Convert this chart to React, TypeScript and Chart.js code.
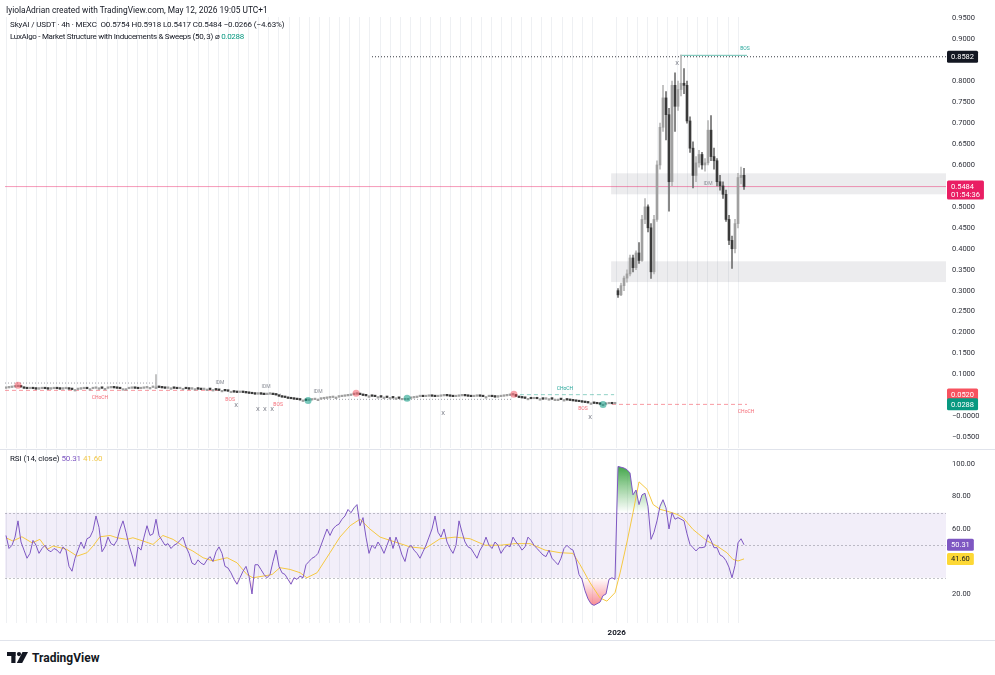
import React, { useEffect, useRef } from 'react';
import { Chart, registerables } from 'chart.js';

Chart.register(...registerables);

// ================= DATA =================
// 4h candles, pre-listing flat part (closes; opens = previous close)
const flatFirstOpen = 0.067;
const flatCloses = [
  0.068, 0.069, 0.070, 0.071, 0.073, 0.070, 0.067, 0.066, 0.067, 0.066,
  0.065, 0.066, 0.067, 0.066, 0.065, 0.066, 0.067, 0.066, 0.065, 0.066,
  0.067, 0.065, 0.064, 0.064, 0.065, 0.066, 0.067, 0.066, 0.066, 0.067,
  0.068, 0.068, 0.067, 0.067, 0.068, 0.069, 0.068, 0.067, 0.066, 0.066,
  0.066, 0.067, 0.068, 0.067, 0.066, 0.067, 0.068, 0.069, 0.069, 0.070,
  0.070, 0.069, 0.068, 0.067, 0.068, 0.068, 0.067, 0.066, 0.067, 0.067,
  0.066, 0.065, 0.066, 0.066, 0.065, 0.064, 0.065, 0.065, 0.064, 0.064,
  0.063, 0.062, 0.062, 0.061, 0.060, 0.060, 0.058, 0.057, 0.058, 0.057,
  0.056, 0.055, 0.054, 0.053, 0.054, 0.053, 0.052, 0.053, 0.054, 0.052,
  0.051, 0.048, 0.046, 0.045, 0.043, 0.042, 0.041, 0.040, 0.039, 0.039,
  0.038, 0.039, 0.040, 0.041, 0.041, 0.042, 0.043, 0.044, 0.045, 0.046,
  0.046, 0.047, 0.048, 0.049, 0.050, 0.052, 0.053, 0.054, 0.052, 0.050,
  0.049, 0.049, 0.048, 0.047, 0.047, 0.046, 0.046, 0.045, 0.045, 0.044,
  0.044, 0.043, 0.043, 0.043, 0.043, 0.044, 0.045, 0.047, 0.048, 0.047,
  0.048, 0.049, 0.048, 0.047, 0.048, 0.049, 0.050, 0.049, 0.048, 0.047,
  0.048, 0.049, 0.050, 0.049, 0.048, 0.047, 0.048, 0.049, 0.048, 0.047,
  0.047, 0.048, 0.047, 0.046, 0.047, 0.048, 0.049, 0.050, 0.051, 0.052,
  0.048, 0.045, 0.044, 0.043, 0.043, 0.042, 0.043, 0.042, 0.042, 0.041,
  0.042, 0.042, 0.041, 0.041, 0.041, 0.040, 0.040, 0.039, 0.038, 0.037,
  0.036, 0.035, 0.034, 0.033, 0.032, 0.032, 0.031, 0.030, 0.029, 0.029,
  0.030, 0.031, 0.030, 0.031,
];
// [bar, low, high] wick spikes in the flat part
const flatWicks = [[50, 0.066, 0.1]];

// pump part (full OHLC)
const pumpOpen = [0.300, 0.290, 0.312, 0.330, 0.340, 0.378, 0.355, 0.390, 0.372, 0.470, 0.500, 0.450, 0.345, 0.470, 0.600, 0.690, 0.760, 0.720, 0.560, 0.790, 0.740, 0.780, 0.795, 0.790, 0.705, 0.640, 0.575, 0.605, 0.625, 0.600, 0.605, 0.683, 0.620, 0.610, 0.560, 0.550, 0.530, 0.470, 0.420, 0.400, 0.460, 0.570, 0.5754];
const pumpHigh = [0.305, 0.318, 0.335, 0.350, 0.385, 0.385, 0.395, 0.415, 0.480, 0.520, 0.505, 0.460, 0.480, 0.610, 0.700, 0.790, 0.775, 0.735, 0.800, 0.820, 0.800, 0.862, 0.830, 0.800, 0.715, 0.655, 0.620, 0.635, 0.630, 0.615, 0.706, 0.718, 0.640, 0.615, 0.575, 0.560, 0.540, 0.480, 0.430, 0.470, 0.580, 0.595, 0.5918];
const pumpLow = [0.284, 0.288, 0.300, 0.320, 0.335, 0.345, 0.350, 0.365, 0.370, 0.460, 0.440, 0.329, 0.340, 0.465, 0.590, 0.680, 0.660, 0.490, 0.550, 0.680, 0.730, 0.765, 0.770, 0.700, 0.630, 0.545, 0.560, 0.595, 0.590, 0.585, 0.600, 0.610, 0.590, 0.550, 0.540, 0.520, 0.465, 0.410, 0.353, 0.390, 0.450, 0.555, 0.5417];
const pumpClose = [0.290, 0.312, 0.330, 0.340, 0.378, 0.355, 0.390, 0.372, 0.470, 0.500, 0.450, 0.345, 0.470, 0.600, 0.690, 0.760, 0.720, 0.560, 0.790, 0.740, 0.780, 0.795, 0.790, 0.705, 0.640, 0.575, 0.605, 0.625, 0.600, 0.605, 0.683, 0.620, 0.610, 0.560, 0.550, 0.530, 0.470, 0.420, 0.400, 0.460, 0.570, 0.5754, 0.5484];

// RSI (14, close), one per bar
const rsiValues = [
  56, 48, 50, 55, 65, 52, 47, 42, 45, 53,
  50, 45, 48, 50, 47, 46, 48, 47, 45, 49,
  47, 37, 34, 42, 47, 52, 48, 54, 55, 59,
  68, 61, 46, 49, 55, 51, 50, 53, 60, 65,
  58, 50, 44, 37, 49, 47, 55, 62, 56, 57,
  66, 56, 53, 50, 51, 48, 50, 51, 53, 55,
  49, 45, 39, 38, 41, 39, 38, 41, 43, 40,
  46, 49, 45, 37, 36, 33, 29, 26, 30, 34,
  37, 31, 20, 38, 38, 35, 32, 30, 32, 40,
  47, 37, 33, 32, 29, 26, 30, 29, 31, 30,
  38, 40, 42, 43, 45, 50, 55, 60, 56, 60,
  62, 63, 66, 68, 72, 70, 73, 75, 62, 67,
  55, 45, 50, 48, 52, 49, 45, 50, 55, 48,
  55, 50, 44, 40, 48, 50, 47, 45, 42, 46,
  50, 55, 60, 68, 58, 55, 60, 52, 48, 45,
  50, 65, 58, 52, 49, 48, 45, 42, 47, 50,
  55, 50, 48, 52, 50, 45, 48, 50, 49, 55,
  52, 50, 47, 49, 55, 53, 50, 48, 46, 44,
  43, 47, 42, 40, 38, 42, 48, 50, 48, 47,
  41, 32, 29, 22, 17, 14, 13, 14, 15, 19,
  20, 29, 30, 29, 98.5, 98, 97.5, 96.5, 94.5, 81,
  84, 75, 81, 82, 74, 53.6, 58, 65, 74, 78,
  73, 60, 70, 66, 67, 66, 65, 57, 50.5, 48.5,
  46.5, 48.5, 48.5, 49, 56.5, 53, 48.5, 48.5, 44, 43,
  40.5, 36.5, 30, 37.5, 51.5, 54, 50.31,
];
// RSI-based MA (read at these bar positions)
const rsiMaBars = [0, 2.3, 5.3, 8.7, 11.3, 13.7, 15.7, 18, 20.3, 23.7, 27, 29, 31.3, 34.7, 37, 40.3, 42.3, 45.7, 49, 52.3, 55.7, 59, 62.3, 65.7, 69, 73.7, 77, 80.3, 82.3, 85.7, 88.7, 91.3, 94.7, 98, 100.3, 103.7, 108, 111.3, 114.7, 118, 121.3, 124.7, 129.7, 134.7, 139.7, 144.7, 149.7, 154.7, 159.7, 164.7, 169.7, 174.7, 179.7, 184.7, 189, 191.3, 194.7, 198, 200.3, 203, 204.7, 207, 209, 211, 213.7, 215.7, 218, 220.3, 223.7, 225.7, 229, 233.7, 237, 240.3, 242.3, 244, 246];
const rsiMaValues = [54.6, 52.6, 55.2, 51.5, 53.6, 47.4, 49.5, 48.5, 47.4, 43.3, 45.4, 49.5, 55.2, 56, 54.6, 53.6, 54.6, 52.6, 50.5, 56, 53.6, 49.5, 46.4, 42.3, 40.3, 42.3, 39.2, 32, 30, 31, 32, 36.2, 35.1, 33.1, 30, 33.1, 45.4, 55, 62, 66, 60, 55, 52, 49, 48, 54, 55, 54, 50, 50, 51, 51, 47, 45.4, 45, 38.2, 26.9, 17.6, 15.6, 20.8, 33, 52, 70, 89, 84.4, 75.1, 72.1, 71, 69, 66.9, 59.7, 52.6, 49.5, 45.4, 41.3, 40.3, 41.6];
const rsiLast = 50.31;
const rsiMaLast = 41.6;

// tick labels
const priceTicks = [-0.05, 0, 0.05, 0.1, 0.15, 0.2, 0.25, 0.3, 0.35, 0.4, 0.45, 0.5, 0.55, 0.6, 0.65, 0.7, 0.75, 0.8, 0.85, 0.9, 0.95];
const rsiTicks = [20, 40, 60, 80, 100];
const rsiLevels = [70, 50, 30];
const yearLabel = '2026';
const yearBar = 203.57;

// market-structure annotations: [fromBar, toBar, price] / [bar, price]
const lastPrice = 0.5484;
const countdown = '01:54:36';
const swingHighLevel = [122, 0.8582];
const indicatorUpper = 0.052;
const indicatorValue = 0.0288;
const dottedLevels = [[-0.33, 50.3, 0.0795], [85.3, 92.3, 0.053], [101, 169, 0.0406]];
const chochBearLevels = [[-0.33, 72, 0.062], [202, 247, 0.0286]];
const chochBullLevels = [[171.3, 202.7, 0.0518]];
const bosBullLevels = [[224.7, 247, 0.8616]];
const zones = [[201.7, 0.58, 0.53], [201.7, 0.37, 0.3205]];
const swingHighMarks = [[4, 0.074], [116.7, 0.055], [169.3, 0.0525]];
const swingLowMarks = [[100.7, 0.038], [133.7, 0.043], [199, 0.0286]];
const bosBearLabels = [[74.7, 0.0406], [90.7, 0.0286], [192.3, 0.0191]];
const bosBullLabels = [[246.3, 0.878]];
const chochBearLabels = [[31.3, 0.0453], [246.7, 0.0107]];
const chochBullLabels = [[186.3, 0.0668]];
const idmLabels = [[71.3, 0.0811], [86.7, 0.07], [104, 0.058], [234, 0.556]];
const sweepLabels = [[76.7, 0.0263], [84, 0.0167], [86.3, 0.0167], [88.7, 0.0167], [145.7, 0.0072], [194.7, -0.0024], [223.7, 0.8425]];

// ================= LAYOUT / STYLE =================
const FONT = "Roboto, 'Noto Sans', sans-serif";
const barAxisMin = -1 / 3;
const barAxisMax = 313.33;
const priceMin = -0.0755;
const priceMax = 0.9531;
const rsiMin = 2.15;
const rsiMax = 108.6;
const AXIS_W = 49;
const GRID = '#eef0f3';

function buildCandles() {
  const out: any[] = [];
  let prev = flatFirstOpen;
  flatCloses.forEach((c) => {
    const o = prev;
    out.push({ o, h: Math.max(o, c), l: Math.min(o, c), c });
    prev = c;
  });
  flatWicks.forEach(([i, l, h]) => {
    out[i].l = Math.min(out[i].l, l);
    out[i].h = Math.max(out[i].h, h);
  });
  pumpOpen.forEach((o, k) => out.push({ o, h: pumpHigh[k], l: pumpLow[k], c: pumpClose[k] }));
  return out;
}

function gridTickValues() {
  const t: number[] = [];
  for (let v = 0; v < yearBar - 6; v += 3.37) t.push(v);
  t.push(yearBar);
  for (let v = yearBar + 3.6; v <= 245; v += 3.35) t.push(v);
  return t;
}

function fmtPrice(v: number) {
  if (Math.abs(v) < 1e-9) return '\u22120.0000';
  const s = Math.abs(v).toFixed(4);
  return v < 0 ? '\u2212' + s : s;
}

function drawBadges(chart: any, badges: any[]) {
  const { ctx, chartArea: a, scales } = chart;
  const y = scales.y;
  ctx.save();
  ctx.font = `7.5px ${FONT}`;
  ctx.textBaseline = 'middle';
  ctx.textAlign = 'left';
  badges.forEach(([value, lines, bg, fg]) => {
    const yp = y.getPixelForValue(value);
    const w = Math.max(...lines.map((t: string) => ctx.measureText(t).width)) + 8;
    const h = 12 + 7 * (lines.length - 1);
    const x0 = a.right + 1;
    ctx.fillStyle = bg;
    ctx.beginPath();
    if (ctx.roundRect) ctx.roundRect(x0, yp - 6, w, h, 1.5);
    else ctx.rect(x0, yp - 6, w, h);
    ctx.fill();
    ctx.fillStyle = fg;
    lines.forEach((t: string, k: number) => ctx.fillText(t, x0 + 4, yp + 0.5 + k * 8));
  });
  ctx.restore();
}

const pricePlugin = {
  id: 'priceDecor',
  beforeDatasetsDraw(chart: any) {
    const { ctx, chartArea: a, scales } = chart;
    const x = scales.x, y = scales.y;
    ctx.save();
    ctx.beginPath();
    ctx.rect(a.left, a.top, a.width, a.height);
    ctx.clip();
    ctx.fillStyle = 'rgba(120,123,134,0.14)';
    zones.forEach(([from, top, bottom]) => {
      const x0 = x.getPixelForValue(from);
      const y0 = y.getPixelForValue(top);
      const y1 = y.getPixelForValue(bottom);
      ctx.fillRect(x0, y0, a.right - x0, y1 - y0);
    });
    ctx.restore();
  },
  afterDatasetsDraw(chart: any) {
    const { ctx, chartArea: a, scales } = chart;
    const x = scales.x, y = scales.y;
    const groups: any[] = [
      [bosBearLabels, 'BOS', 'rgba(242,54,69,0.75)', 5],
      [bosBullLabels, 'BOS', '#26a69a', 5],
      [chochBearLabels, 'CHoCH', 'rgba(242,54,69,0.75)', 5],
      [chochBullLabels, 'CHoCH', '#26a69a', 5],
      [idmLabels, 'IDM', '#8a8d96', 5],
      [sweepLabels, 'X', '#787b86', 6],
    ];
    ctx.save();
    ctx.beginPath();
    ctx.rect(a.left, a.top, a.width, a.height);
    ctx.clip();
    ctx.textAlign = 'center';
    ctx.textBaseline = 'middle';
    groups.forEach(([list, text, color, size]) => {
      ctx.font = `${size}px ${FONT}`;
      ctx.fillStyle = color;
      list.forEach(([b, v]: number[]) => ctx.fillText(text, x.getPixelForValue(b), y.getPixelForValue(v)));
    });
    ctx.restore();
  },
  afterDraw(chart: any) {
    drawBadges(chart, [
      [swingHighLevel[1], [swingHighLevel[1].toFixed(4)], '#131722', '#ffffff'],
      [lastPrice, [lastPrice.toFixed(4), countdown], '#e91e63', '#ffffff'],
      [indicatorUpper, [indicatorUpper.toFixed(4)], '#f7525f', '#ffffff'],
      [indicatorValue, [indicatorValue.toFixed(4)], '#089981', '#ffffff'],
    ]);
  },
};

const rsiPlugin = {
  id: 'rsiDecor',
  beforeDatasetsDraw(chart: any) {
    const { ctx, chartArea: a, scales } = chart;
    const y = scales.y;
    const yU = y.getPixelForValue(rsiLevels[0]);
    const yL = y.getPixelForValue(rsiLevels[2]);
    ctx.save();
    ctx.fillStyle = 'rgba(126,87,194,0.1)';
    ctx.fillRect(a.left, yU, a.width, yL - yU);
    ctx.strokeStyle = 'rgba(120,123,134,0.45)';
    ctx.lineWidth = 1;
    ctx.setLineDash([2, 2]);
    rsiLevels.forEach((lv) => {
      const yy = Math.round(y.getPixelForValue(lv)) + 0.5;
      ctx.beginPath();
      ctx.moveTo(a.left, yy);
      ctx.lineTo(a.right, yy);
      ctx.stroke();
    });
    ctx.restore();
  },
  afterDraw(chart: any) {
    drawBadges(chart, [
      [rsiLast, [rsiLast.toFixed(2)], '#7e57c2', '#ffffff'],
      [rsiMaLast, [rsiMaLast.toFixed(2)], '#fdd835', '#131722'],
    ]);
  },
};

function seg(l: number[], color: string, dash: number[]) {
  return {
    type: 'line',
    data: [{ x: l[0], y: l[2] }, { x: l[1], y: l[2] }],
    borderColor: color,
    borderDash: dash,
    borderWidth: 1,
    pointRadius: 0,
    fill: false,
  };
}

function xScale(showLabels: boolean, height: number) {
  const ticks = gridTickValues();
  return {
    type: 'linear',
    min: barAxisMin,
    max: barAxisMax,
    offset: false,
    afterBuildTicks: (s: any) => {
      s.ticks = ticks.map((v) => ({ value: v }));
    },
    afterFit: (s: any) => {
      s.height = height;
    },
    grid: { color: GRID, drawTicks: false, offset: false },
    border: { display: false },
    ticks: {
      display: showLabels,
      autoSkip: false,
      maxRotation: 0,
      padding: 5,
      color: '#131722',
      font: { family: FONT, size: 8, weight: 'bold' },
      callback: (v: number) => (Math.abs(v - yearBar) < 1e-6 ? yearLabel : ''),
    },
  };
}

export default function App() {
  const priceRef = useRef<HTMLCanvasElement | null>(null);
  const rsiRef = useRef<HTMLCanvasElement | null>(null);

  useEffect(() => {
    const candles = buildCandles();
    const up = candles.map((k) => k.c >= k.o);
    const priceChart = new Chart(priceRef.current as any, {
      type: 'bar',
      data: {
        datasets: [
          {
            type: 'line',
            data: swingHighMarks.map(([b, v]) => ({ x: b, y: v })),
            showLine: false,
            pointRadius: 3.5,
            pointBackgroundColor: 'rgba(242,54,69,0.45)',
            pointBorderWidth: 0,
          },
          {
            type: 'line',
            data: swingLowMarks.map(([b, v]) => ({ x: b, y: v })),
            showLine: false,
            pointRadius: 3.5,
            pointBackgroundColor: 'rgba(8,153,129,0.55)',
            pointBorderWidth: 0,
          },
          {
            type: 'bar',
            data: candles.map((k, i) => ({ x: i, y: [k.o, k.c] })),
            backgroundColor: up.map((u) => (u ? '#a0a0a0' : '#3a3a3a')),
            barThickness: 2,
            minBarLength: 1.5,
            grouped: false,
            borderWidth: 0,
          },
          {
            type: 'bar',
            data: candles.map((k, i) => ({ x: i, y: [k.l, k.h] })),
            backgroundColor: up.map((u) => (u ? '#b8b8b8' : '#707070')),
            barThickness: 1,
            minBarLength: 1,
            grouped: false,
            borderWidth: 0,
          },
          ...dottedLevels.map((l) => seg(l, 'rgba(120,123,134,0.7)', [1, 2])),
          ...chochBearLevels.map((l) => seg(l, 'rgba(242,54,69,0.5)', [4, 3])),
          ...chochBullLevels.map((l) => seg(l, 'rgba(8,153,129,0.45)', [4, 3])),
          ...bosBullLevels.map((l) => seg(l, 'rgba(8,153,129,0.6)', [])),
          seg([swingHighLevel[0], barAxisMax, swingHighLevel[1]], '#3a3d45', [1, 2]),
          seg([barAxisMin, barAxisMax, lastPrice], 'rgba(233,30,99,0.45)', []),
        ] as any,
      },
      options: {
        responsive: false,
        animation: false,
        devicePixelRatio: 1,
        events: [],
        layout: { padding: { top: 17, bottom: 12, left: 5, right: 0 } },
        plugins: { legend: { display: false }, tooltip: { enabled: false } },
        scales: {
          x: xScale(false, 0) as any,
          y: {
            type: 'linear',
            position: 'right',
            min: priceMin,
            max: priceMax,
            afterBuildTicks: (s: any) => {
              s.ticks = priceTicks.map((v) => ({ value: v }));
            },
            afterFit: (s: any) => {
              s.width = AXIS_W;
            },
            grid: { display: false, drawTicks: false },
            border: { display: false },
            ticks: {
              padding: 6,
              color: '#2e3039',
              font: { family: FONT, size: 7.5 },
              callback: (v: number) => {
                const covered = [swingHighLevel[1], lastPrice, indicatorUpper, indicatorValue].some(
                  (b) => Math.abs(b - v) < 0.014
                );
                return covered ? '' : fmtPrice(v);
              },
            },
          },
        },
      } as any,
      plugins: [pricePlugin],
    });

    const rsiPts = rsiValues.map((v, i) => ({ x: i, y: v }));
    const rsiChart = new Chart(rsiRef.current as any, {
      type: 'line',
      data: {
        datasets: [
          { data: rsiPts, borderColor: '#7e57c2', borderWidth: 1, pointRadius: 0, fill: false },
          {
            data: rsiMaBars.map((b, k) => ({ x: b, y: rsiMaValues[k] })),
            borderColor: '#f5c842',
            borderWidth: 1,
            pointRadius: 0,
            fill: false,
          },
          {
            data: rsiPts,
            borderColor: 'rgba(0,0,0,0)',
            borderWidth: 1,
            pointRadius: 0,
            fill: { target: { value: rsiLevels[0] }, below: 'rgba(0,0,0,0)' },
            backgroundColor: (c: any) => {
              const ch = c.chart;
              const y = ch.scales && ch.scales.y;
              if (!ch.chartArea || !y) return 'rgba(0,0,0,0)';
              const g = ch.ctx.createLinearGradient(0, y.getPixelForValue(100), 0, y.getPixelForValue(rsiLevels[0]));
              g.addColorStop(0, 'rgba(56,160,64,1)');
              g.addColorStop(1, 'rgba(76,175,80,0)');
              return g;
            },
          },
          {
            data: rsiPts,
            borderColor: 'rgba(0,0,0,0)',
            borderWidth: 1,
            pointRadius: 0,
            fill: { target: { value: rsiLevels[2] }, above: 'rgba(0,0,0,0)' },
            backgroundColor: (c: any) => {
              const ch = c.chart;
              const y = ch.scales && ch.scales.y;
              if (!ch.chartArea || !y) return 'rgba(0,0,0,0)';
              const g = ch.ctx.createLinearGradient(0, y.getPixelForValue(rsiLevels[2]), 0, y.getPixelForValue(0));
              g.addColorStop(0, 'rgba(242,54,69,0)');
              g.addColorStop(1, 'rgba(242,54,69,1)');
              return g;
            },
          },
        ] as any,
      },
      options: {
        responsive: false,
        animation: false,
        devicePixelRatio: 1,
        events: [],
        layout: { padding: { top: 11, bottom: 5, left: 5, right: 0 } },
        plugins: { legend: { display: false }, tooltip: { enabled: false } },
        elements: { line: { tension: 0 } },
        scales: {
          x: xScale(true, 17) as any,
          y: {
            type: 'linear',
            position: 'right',
            min: rsiMin,
            max: rsiMax,
            afterBuildTicks: (s: any) => {
              s.ticks = rsiTicks.map((v) => ({ value: v }));
            },
            afterFit: (s: any) => {
              s.width = AXIS_W;
            },
            grid: { display: false, drawTicks: false },
            border: { display: false },
            ticks: {
              padding: 6,
              color: '#2e3039',
              font: { family: FONT, size: 7.5 },
              callback: (v: number) =>
                [rsiLast, rsiMaLast].some((b) => Math.abs(b - v) < 3.7) ? '' : v.toFixed(2),
            },
          },
        },
      } as any,
      plugins: [rsiPlugin],
    });

    return () => {
      priceChart.destroy();
      rsiChart.destroy();
    };
  }, []);

  const txt: React.CSSProperties = {
    position: 'absolute',
    fontSize: 8,
    lineHeight: '10px',
    color: '#131722',
    whiteSpace: 'pre',
  };

  return (
    <div
      style={{
        position: 'fixed',
        left: 0,
        top: 0,
        width: 995,
        height: 675,
        background: '#ffffff',
        overflow: 'hidden',
        fontFamily: FONT,
      }}
    >
      <canvas ref={priceRef} width={995} height={460} style={{ position: 'absolute', left: 0, top: 0, width: 995, height: 460 }} />
      <canvas ref={rsiRef} width={995} height={206} style={{ position: 'absolute', left: 0, top: 439, width: 995, height: 206 }} />
      <div style={{ position: 'absolute', left: 0, top: 449, width: 995, height: 1, background: '#e0e3eb' }} />
      <div style={{ position: 'absolute', left: 0, top: 640, width: 995, height: 1, background: '#e0e3eb' }} />

      <div style={{ ...txt, left: 6, top: 5, fontSize: 8.4 }}>IyiolaAdrian created with TradingView.com, May 12, 2026 19:05 UTC+1</div>
      <div style={{ ...txt, left: 10, top: 20, letterSpacing: '-0.12px' }}>
        {'SkyAI / USDT · 4h · MEXC  O0.5754 H0.5918 L0.5417 C0.5484 \u22120.0266 (\u22124.63%)'}
      </div>
      <div style={{ ...txt, left: 10, top: 32, letterSpacing: '-0.3px' }}>
        {'LuxAlgo - Market Structure with Inducements & Sweeps (50, 3) \u2300 '}
        <span style={{ color: '#089981' }}>0.0288</span>
      </div>
      <div style={{ ...txt, left: 10, top: 454, letterSpacing: '-0.1px' }}>
        {'RSI (14, close) '}
        <span style={{ color: '#7e57c2' }}>50.31</span>
        {' '}
        <span style={{ color: '#f2c94c' }}>41.60</span>
      </div>

      <div style={{ position: 'absolute', left: 7, top: 652, display: 'flex', alignItems: 'center' }}>
        <svg width="21" height="12" viewBox="0 0 21 12">
          <rect x="0" y="0" width="8.5" height="4" fill="#131722" />
          <rect x="4.3" y="0" width="4.2" height="11" fill="#131722" />
          <circle cx="12" cy="2.1" r="2.1" fill="#131722" />
          <polygon points="15.5,0 21,0 15.2,11 9.8,11" fill="#131722" />
        </svg>
        <span style={{ marginLeft: 4, fontSize: 12, fontWeight: 700, color: '#131722', lineHeight: '12px' }}>TradingView</span>
      </div>
    </div>
  );
}
